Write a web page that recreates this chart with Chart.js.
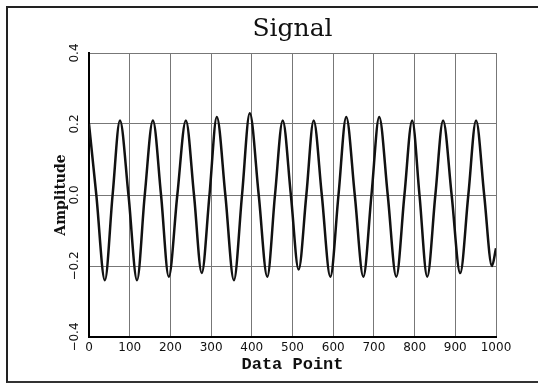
<!DOCTYPE html>
<html>
<head>
<meta charset="utf-8">
<script src="https://cdn.jsdelivr.net/npm/chart.js@4.4.1/dist/chart.umd.min.js"></script>
<style>
    body { margin: 0; background: #fff; }
    #wrap { position: relative; width: 538px; height: 384px; }
    #frame {
        position: absolute; left: 6px; top: 6px; width: 532px; height: 377px;
        border-left: 2px solid #222; border-top: 2px solid #222; border-bottom: 2px solid #333;
        box-sizing: border-box; pointer-events: none;
    }
</style>
</head>
<body>
<div id="wrap">
    <canvas id="signalChart" width="538" height="384"></canvas>
    <div id="frame"></div>
</div>
<script>
// Values: peaks, zero crossings and troughs
const dataPoint = [0, 18, 39, 58, 76, 97, 118, 137, 157, 177, 196, 217, 238, 258, 277, 296,
    314, 335, 356, 376, 395, 417, 438, 457, 476, 496, 515, 534, 552, 572, 593, 613,
    632, 653, 674, 694, 713, 734, 755, 775, 794, 812, 831, 851, 870, 891, 912, 932,
    951, 971, 990, 1000];
const amplitude = [0.20, 0, -0.24, 0, 0.21, 0, -0.24, 0, 0.21, 0, -0.23, 0, 0.21, 0, -0.22, 0,
    0.22, 0, -0.24, 0, 0.23, 0, -0.23, 0, 0.21, 0, -0.21, 0, 0.21, 0, -0.23, 0,
    0.22, 0, -0.23, 0, 0.22, 0, -0.23, 0, 0.21, 0, -0.23, 0, 0.21, 0, -0.22, 0,
    0.21, 0, -0.20, -0.15];
const xTicks = [0, 100, 200, 300, 400, 500, 600, 700, 800, 900, 1000];
const yTicks = [-0.4, -0.2, 0.0, 0.2, 0.4];

const gridStyle = {
    color: '#777',
    lineWidth: 1,
    borderDash: [1, 2],
    drawTicks: false
};

const ctx = document.getElementById('signalChart').getContext('2d');
new Chart(ctx, {
    type: 'line',
    data: {
        datasets: [{
            label: 'Signal',
            data: dataPoint.map((x, i) => ({ x: x, y: amplitude[i] })),
            borderColor: '#111',
            borderWidth: 2.5,
            pointRadius: 0,
            cubicInterpolationMode: 'monotone',
            fill: false
        }]
    },
    options: {
        responsive: false,
        animation: false,
        layout: { padding: { left: 0, right: 42, top: 0, bottom: 0 } },
        plugins: {
            legend: { display: false },
            tooltip: { enabled: false },
            title: {
                display: true,
                text: 'Signal',
                fullSize: false,
                color: '#111',
                font: { family: 'DejaVu Serif', size: 25, weight: 'normal', lineHeight: 1.2 },
                padding: { top: 14, bottom: 9 }
            }
        },
        scales: {
            x: {
                type: 'linear',
                min: 0,
                max: 1000,
                afterBuildTicks: scale => { scale.ticks = xTicks.map(v => ({ value: v })); },
                afterFit: scale => { scale.height = 47; },
                grid: gridStyle,
                border: { color: '#000', width: 2 },
                ticks: {
                    color: '#111',
                    padding: 4,
                    maxRotation: 0,
                    font: { family: 'DejaVu Sans', size: 12 },
                    callback: v => String(v)
                },
                title: {
                    display: true,
                    text: 'Data Point',
                    color: '#111',
                    font: { family: 'Liberation Mono', size: 17, weight: 'bold', lineHeight: 1.2 },
                    padding: { top: 0, bottom: 9 }
                }
            },
            y: {
                min: -0.4,
                max: 0.4,
                afterBuildTicks: scale => { scale.ticks = yTicks.map(v => ({ value: v })); },
                afterFit: scale => { scale.width = 89; },
                grid: gridStyle,
                border: { color: '#000', width: 2 },
                ticks: {
                    color: '#111',
                    padding: 0,
                    minRotation: 90,
                    maxRotation: 90,
                    crossAlign: 'center',
                    font: { family: 'DejaVu Sans', size: 12 },
                    callback: v => v.toFixed(1).replace('-', '\u2212')
                },
                title: {
                    display: true,
                    text: 'Amplitude',
                    color: '#111',
                    font: { family: 'DejaVu Serif', size: 14, weight: 'bold', lineHeight: 1.2 },
                    padding: { top: 53, bottom: 0 }
                }
            }
        }
    }
});
</script>
</body>
</html>
